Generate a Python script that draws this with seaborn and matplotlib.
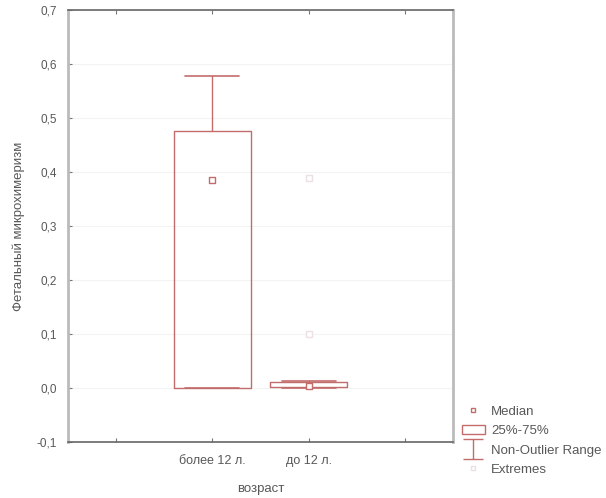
#---------------- Boxplot: Фетальный микрохимеризм ----------------#
import numpy as np
import matplotlib
matplotlib.use('Agg')
import matplotlib.pyplot as plt
from matplotlib.lines import Line2D
from matplotlib.patches import Patch
from matplotlib.path import Path
from matplotlib.ticker import FuncFormatter
import seaborn as sns

#Daten
groups = ['более 12 л.', 'до 12 л.']
medians = [0.385, 0.004]
q1 = [0.0, 0.002]
q3 = [0.476, 0.011]
whis_lo = [0.0, 0.0]
whis_hi = [0.578, 0.013]
extreme_groups = ['до 12 л.', 'до 12 л.']
extreme_values = [0.389, 0.100]
y_ticks = [-0.1, 0.0, 0.1, 0.2, 0.3, 0.4, 0.5, 0.6, 0.7]

#Stil
sns.set_theme(style='white')
plt.rcParams['font.family'] = ['Liberation Sans', 'DejaVu Sans']
red = '#c26c6c'
light = '#ece0e0'
txt = '#585858'

fig = plt.figure(figsize=(6.06, 4.98), dpi=100)
ax = fig.add_axes([68/606, 56/498, 385/606, 432/498])

pos = np.arange(len(groups))
stats = [{'med': m, 'q1': a, 'q3': b, 'whislo': lo, 'whishi': hi, 'fliers': []}
         for m, a, b, lo, hi in zip(medians, q1, q3, whis_lo, whis_hi)]
ax.bxp(stats, positions=pos, widths=0.8, capwidths=0.56, showfliers=False,
       boxprops=dict(color=red, lw=1), whiskerprops=dict(color=red, lw=1),
       capprops=dict(color=red, lw=1.2), medianprops=dict(lw=0), manage_ticks=False)

#Median und Extremwerte
sns.scatterplot(x=pos, y=medians, marker='s', s=14, color='white',
                edgecolor=red, linewidth=1, ax=ax, zorder=5)
ext_x = [groups.index(g) for g in extreme_groups]
sns.scatterplot(x=ext_x, y=extreme_values, marker='s', s=14, color='white',
                edgecolor=light, linewidth=1, ax=ax, zorder=5)

#Achsen
ax.set_xlim(-1.5, 2.5)
ax.set_ylim(-0.1, 0.7)
ax.set_xticks([-1, 0, 1, 2])
ax.set_xticklabels([''] + groups + [''])
ax.set_yticks(y_ticks)
ax.yaxis.set_major_formatter(FuncFormatter(lambda v, p: ('%.1f' % v).replace('.', ',')))
ax.yaxis.grid(True, color='#f3f3f3', lw=0.8)
ax.set_axisbelow(True)
ax.tick_params(axis='both', direction='in', length=3, width=0.8, color='#777777',
               labelcolor=txt, top=True, bottom=True, left=True)
ax.tick_params(axis='x', pad=9, labelsize=9)
ax.tick_params(axis='y', pad=8, labelsize=8.5)
for side in ['top', 'bottom']:
    ax.spines[side].set_color('#666666')
    ax.spines[side].set_linewidth(1.2)
for side in ['left', 'right']:
    ax.spines[side].set_color('#bbbbbb')
    ax.spines[side].set_linewidth(2)
ax.set_xlabel('возраст', fontsize=9.5, color=txt, labelpad=12)
ax.set_ylabel('Фетальный микрохимеризм', fontsize=9.5, color=txt, labelpad=8)

#Legende
ibeam = Path([(-1, 1), (1, 1), (0, 1), (0, -1), (-1, -1), (1, -1)],
             [Path.MOVETO, Path.LINETO, Path.MOVETO, Path.LINETO, Path.MOVETO, Path.LINETO])
handles = [Line2D([], [], marker='s', ls='none', ms=3.5, mfc='white', mec=red, mew=1),
           Patch(facecolor='white', edgecolor=red, lw=1),
           Line2D([], [], marker=ibeam, ls='none', ms=15, mfc='none', mec=red, mew=1),
           Line2D([], [], marker='s', ls='none', ms=3.5, mfc='white', mec=light, mew=1)]
labels = ['Median', '25%-75%', 'Non-Outlier Range', 'Extremes']
leg = fig.legend(handles, labels, loc='upper left', bbox_to_anchor=(457/606, 1 - 400/498),
                 frameon=False, fontsize=9.5, labelspacing=0.55, handlelength=1.7,
                 handletextpad=0.5, borderaxespad=0)
for t in leg.get_texts():
    t.set_color(txt)

fig.savefig('out.png', dpi=100)
